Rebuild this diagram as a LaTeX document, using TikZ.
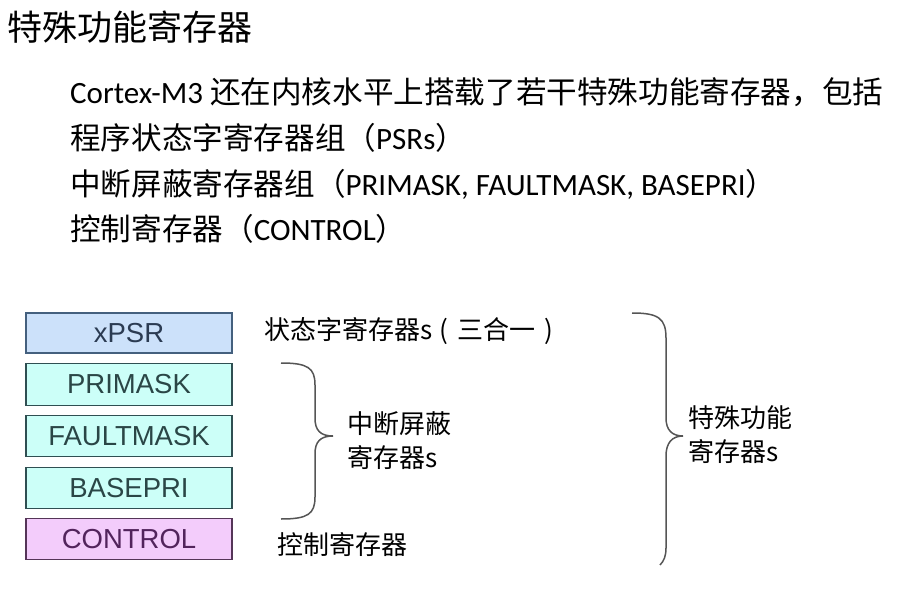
\documentclass[tikz,border=0pt]{standalone}
\usepackage{fontspec}
\setmainfont{Carlito}
\newfontfamily\cjk{Noto Sans CJK SC}
\newfontfamily\arialf{Liberation Sans}
\definecolor{psrfill}{HTML}{CCE1FA}
\definecolor{psrline}{HTML}{44607E}
\definecolor{psrtext}{HTML}{2B3B52}
\definecolor{mskfill}{HTML}{CCFFF8}
\definecolor{mskline}{HTML}{2F4F52}
\definecolor{msktext}{HTML}{2A4646}
\definecolor{ctlfill}{HTML}{F3CCFB}
\definecolor{ctlline}{HTML}{553558}
\definecolor{ctltext}{HTML}{52245C}
\definecolor{bracecol}{HTML}{555555}
\newcommand{\zh}[1]{{\cjk\fontsize{30.6}{34}\selectfont #1}}
\tikzset{
  regbox/.style={draw, line width=1.4pt, minimum width=206pt, inner sep=0pt,
    font=\arialf\fontsize{27.5}{30}\selectfont},
  bodytext/.style={anchor=west, inner sep=0pt, font=\fontsize{31}{34}\selectfont},
  lbl/.style={anchor=west, inner sep=0pt, align=left, font=\cjk\fontsize{26}{34}\selectfont},
  bracestyle/.style={draw=bracecol, line width=1.5pt}
}
\begin{document}
\begin{tikzpicture}[x=1pt,y=-1pt]
\path[use as bounding box] (0,0) rectangle (913,591);
% title
\node[anchor=west, inner sep=0pt, font=\cjk\fontsize{35}{38}\selectfont] (title) at (7,27) {特殊功能寄存器};
% body text
\node[bodytext] (l1) at (70,92) {Cortex-M3 \zh{还在内核水平上搭载了若干特殊功能寄存器，包括}};
\node[bodytext] (l2) at (70,138) {\zh{程序状态字寄存器组（}PSRs\zh{）}};
\node[bodytext] (l3) at (70,184) {\zh{中断屏蔽寄存器组（}PRIMASK, FAULTMASK, BASEPRI\zh{）}};
\node[bodytext] (l4) at (70,229) {\zh{控制寄存器（}CONTROL\zh{）}};
% register boxes
\node[regbox, fill=psrfill, draw=psrline, text=psrtext, minimum height=40pt] (xpsr) at (129,333) {xPSR};
\node[regbox, fill=mskfill, draw=mskline, text=msktext, minimum height=42pt] (prim) at (129,384.5) {PRIMASK};
\node[regbox, fill=mskfill, draw=mskline, text=msktext, minimum height=41pt] (fault) at (129,436) {FAULTMASK};
\node[regbox, fill=mskfill, draw=mskline, text=msktext, minimum height=41pt] (base) at (129,488) {BASEPRI};
\node[regbox, fill=ctlfill, draw=ctlline, text=ctltext, minimum height=41pt] (ctrl) at (129,539) {CONTROL};
% labels
\node[lbl] (psrlbl) at (264,331) {状态字寄存器s\hspace{7pt}(\hspace{9pt}三合一\hspace{9pt})};
\node[lbl] (msklbl) at (347,441) {中断屏蔽\\寄存器s};
\node[lbl] (ctllbl) at (277,545) {控制寄存器};
\node[lbl] (sfrlbl) at (688,435) {特殊功能\\寄存器s};
% small brace
\coordinate (sb1) at (281,363);
\coordinate (sbt) at (333,436);
\coordinate (sb2) at (281,519);
\draw[bracestyle] (sb1) .. controls (308,363) and (315,368) .. (315,385) -- (315,418)
  .. controls (315,430) and (320,436) .. (sbt)
  .. controls (320,436) and (315,442) .. (315,454) -- (315,497)
  .. controls (315,514) and (308,519) .. (sb2);
% big brace
\coordinate (bb1) at (632,313);
\coordinate (bbt) at (683,436);
\coordinate (bb2) at (660,565);
\draw[bracestyle] (bb1) .. controls (658,313) and (666,318) .. (666,338) -- (666,418)
  .. controls (666,430) and (672,436) .. (bbt)
  .. controls (672,436) and (666,443) .. (666,456) -- (666,548)
  .. controls (666,556) and (664,561) .. (bb2);
\end{tikzpicture}
\end{document}
